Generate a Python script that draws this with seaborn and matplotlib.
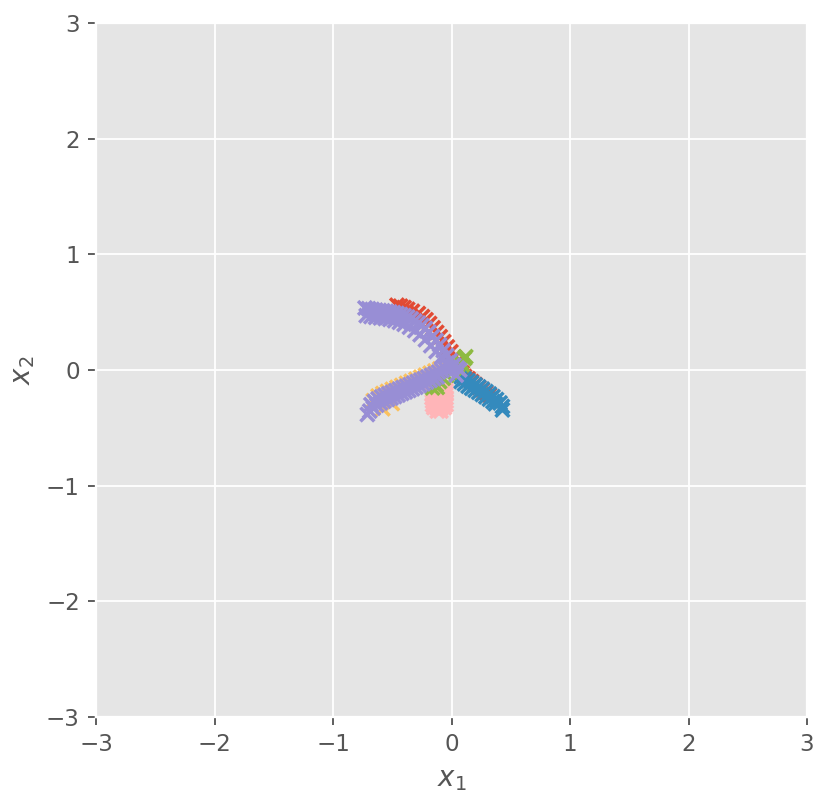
import numpy as np
import pandas as pd
import matplotlib
matplotlib.use("Agg")
import matplotlib.pyplot as plt
import seaborn as sns

plt.style.use("ggplot")

# point clouds, one list pair per colour
red_x = [-0.46, -0.43, -0.40, -0.37, -0.33, -0.28, -0.245, -0.215, -0.185, -0.155, -0.125, -0.095, -0.065, -0.035,
         -0.005, 0.025, 0.05, 0.075, 0.09, 0.11, 0.14, 0.17, 0.20, 0.23, 0.26, 0.29, 0.32]
red_y = [0.560, 0.552, 0.540, 0.525, 0.508, 0.488, 0.462, 0.435, 0.402, 0.365, 0.325, 0.288, 0.245, 0.200,
         0.158, 0.112, 0.068, 0.025, -0.025, -0.055, -0.075, -0.100, -0.125, -0.150, -0.170, -0.195, -0.215]

blue_x = [0.05, 0.08, 0.11, 0.14, 0.17, 0.20, 0.23, 0.26, 0.29, 0.32, 0.35, 0.38, 0.41, 0.43,
          0.08, 0.11, 0.14, 0.17, 0.20, 0.23, 0.26, 0.29, 0.32, 0.35, 0.37, 0.43]
blue_y = [-0.040, -0.058, -0.075, -0.092, -0.110, -0.128, -0.146, -0.165, -0.186, -0.207, -0.230, -0.255, -0.285, -0.315,
          -0.100, -0.120, -0.140, -0.158, -0.175, -0.193, -0.212, -0.232, -0.252, -0.272, -0.292, -0.345]

yellow_x = [-0.66, -0.62, -0.58, -0.54, -0.50, -0.46, -0.42, -0.38, -0.34, -0.30, -0.26, -0.22, -0.18,
            -0.14, -0.10, -0.06, -0.02, -0.58, -0.50]
yellow_y = [-0.265, -0.225, -0.203, -0.185, -0.167, -0.150, -0.133, -0.115, -0.098, -0.080, -0.062, -0.045, -0.027,
            -0.008, 0.010, 0.025, 0.040, -0.335, -0.290]

pink_x = [-0.10, -0.07, -0.045,
          -0.16, -0.13, -0.10, -0.07, -0.045,
          -0.165, -0.13, -0.10, -0.07, -0.045,
          -0.165, -0.13, -0.10, -0.07, -0.045,
          -0.16, -0.13, -0.10, -0.07, -0.045,
          -0.16, -0.13, -0.10, -0.07, -0.045,
          -0.15, -0.12, -0.09, -0.06,
          -0.12, -0.09]
pink_y = [-0.150, -0.150, -0.150,
          -0.180, -0.180, -0.180, -0.180, -0.180,
          -0.210, -0.210, -0.210, -0.210, -0.210,
          -0.240, -0.240, -0.240, -0.240, -0.240,
          -0.270, -0.270, -0.270, -0.270, -0.270,
          -0.300, -0.300, -0.300, -0.300, -0.300,
          -0.325, -0.330, -0.330, -0.325,
          -0.355, -0.355]

green_x = [-0.16, -0.13, -0.10, -0.07, -0.04, -0.01, 0.02, 0.05, 0.08, 0.11, 0.12, 0.06, 0.09, -0.12]
green_y = [-0.155, -0.128, -0.100, -0.072, -0.045, -0.018, 0.012, 0.040, 0.068, 0.100, 0.115, 0.010, 0.045, -0.150]

purple_x = [
    # upper arm, outer row
    -0.73, -0.70, -0.67, -0.64, -0.61, -0.58, -0.55, -0.52, -0.49, -0.46, -0.43, -0.40, -0.37, -0.34,
    -0.31, -0.28, -0.25, -0.22, -0.19, -0.16, -0.13, -0.10, -0.07, -0.04, -0.01, 0.02, 0.05, 0.07,
    # upper arm, inner row
    -0.72, -0.68, -0.64, -0.60, -0.56, -0.52, -0.48, -0.44, -0.40, -0.355, -0.31, -0.265,
    -0.22, -0.175, -0.13, -0.085, -0.04, 0.00, 0.04,
    # lower arm, upper row
    -0.68, -0.65, -0.62, -0.59, -0.56, -0.53, -0.50, -0.47, -0.44, -0.41, -0.38, -0.35, -0.32, -0.29,
    -0.26, -0.23, -0.20, -0.17, -0.14, -0.11, -0.08, -0.05, -0.02, 0.01,
    # lower arm, lower row
    -0.71, -0.69, -0.66, -0.63, -0.60, -0.57, -0.54, -0.51, -0.48, -0.45, -0.42, -0.39, -0.36, -0.33,
    -0.30, -0.27, -0.24, -0.21, -0.18, -0.15, -0.12]
purple_y = [
    0.536, 0.530, 0.524, 0.518, 0.515, 0.512, 0.508, 0.502, 0.496, 0.489, 0.480, 0.470, 0.458, 0.442,
    0.424, 0.406, 0.385, 0.360, 0.328, 0.290, 0.255, 0.218, 0.168, 0.125, 0.082, 0.044, 0.018, 0.000,
    0.470, 0.462, 0.455, 0.450, 0.445, 0.437, 0.426, 0.412, 0.395, 0.370, 0.340, 0.305,
    0.262, 0.210, 0.160, 0.110, 0.060, 0.010, -0.045,
    -0.300, -0.272, -0.250, -0.232, -0.218, -0.205, -0.192, -0.178, -0.165, -0.152, -0.140, -0.127, -0.113, -0.100,
    -0.087, -0.074, -0.060, -0.046, -0.032, -0.018, -0.004, 0.010, 0.024, 0.035,
    -0.385, -0.355, -0.330, -0.305, -0.285, -0.270, -0.255, -0.243, -0.230, -0.217, -0.203, -0.190, -0.177, -0.163,
    -0.149, -0.135, -0.120, -0.105, -0.090, -0.075, -0.060]

series = [
    ("red", red_x, red_y),
    ("blue", blue_x, blue_y),
    ("yellow", yellow_x, yellow_y),
    ("pink", pink_x, pink_y),
    ("green", green_x, green_y),
    ("purple", purple_x, purple_y),
]
palette = {"red": "#E24A33", "blue": "#348ABD", "purple": "#988ED5", "gray": "#777777",
           "yellow": "#FBC15E", "green": "#8EBA42", "pink": "#FFB5B8"}

df = pd.concat([pd.DataFrame({"x1": xs, "x2": ys, "group": name}) for name, xs, ys in series],
               ignore_index=True)

fig = plt.figure(figsize=(830 / 166, 802 / 166), dpi=166)
ax = fig.add_axes([96 / 830, 1 - 717 / 802, 711 / 830, 694 / 802])

sns.scatterplot(data=df, x="x1", y="x2", hue="group", palette=palette, marker="x",
                s=36, linewidth=1.5, legend=False, ax=ax)

ax.set_xlim(-3, 3)
ax.set_ylim(-3, 3)
ax.set_xticks([-3, -2, -1, 0, 1, 2, 3])
ax.set_yticks([-3, -2, -1, 0, 1, 2, 3])
ax.set_xlabel("$x_1$")
ax.set_ylabel("$x_2$")

fig.savefig("out.png", dpi=166)
